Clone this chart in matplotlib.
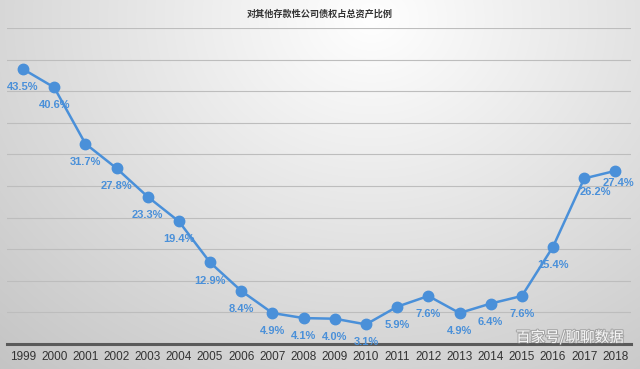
import numpy as np
import matplotlib
matplotlib.use("Agg")
import matplotlib.pyplot as plt
import matplotlib.patheffects as pe
from matplotlib import font_manager

plt.rcParams['font.family'] = ['Noto Sans CJK SC', 'DejaVu Sans']

years = ['1999', '2000', '2001', '2002', '2003', '2004', '2005', '2006', '2007', '2008',
         '2009', '2010', '2011', '2012', '2013', '2014', '2015', '2016', '2017', '2018']
values = [43.5, 40.6, 31.7, 27.8, 23.3, 19.4, 12.9, 8.4, 4.9, 4.1,
          4.0, 3.1, 5.9, 7.6, 4.9, 6.4, 7.6, 15.4, 26.2, 27.4]
title = '对其他存款性公司债权占总资产比例'
watermark = '百家号/聊聊数据'

names = {f.name for f in font_manager.fontManager.ttflist}
narrow = 'Liberation Sans Narrow' if 'Liberation Sans Narrow' in names else 'Liberation Sans'
print(narrow)

W, H = 640, 369
fig = plt.figure(figsize=(W / 100, H / 100), dpi=100)

# gradient background
bg = fig.add_axes([0, 0, 1, 1])
yy, xx = np.mgrid[0:H, 0:W]
cx, cy = W * 0.58, H * 0.05
d = np.sqrt(((xx - cx) / (W * 0.75)) ** 2 + ((yy - cy) / (H * 1.1)) ** 2)
val = 1.0 - 0.2 * np.clip(d, 0, 1.3)
img = np.dstack([val, val, val])
bg.imshow(img, aspect='auto', extent=[0, W, H, 0])
bg.set_axis_off()

left, right = 7.4, 631.0
top, bottom = 28.0, 344.0
ax = fig.add_axes([left / W, 1 - bottom / H, (right - left) / W, (bottom - top) / H])
ax.patch.set_alpha(0)
x = np.arange(len(years))
ax.set_xlim(-0.5, len(years) - 0.5)
ax.set_ylim(0, 50)
for s in ['top', 'right', 'left']:
    ax.spines[s].set_visible(False)
ax.spines['bottom'].set_color('#5a5a5a')
ax.spines['bottom'].set_linewidth(2.2)
ax.set_yticks(np.arange(5, 51, 5))
ax.yaxis.grid(True, color='#bdbdbd', linewidth=0.8)
ax.set_axisbelow(True)
ax.tick_params(axis='y', left=False, labelleft=False)
ax.set_xticks(x)
ax.set_xticklabels(years, fontsize=8.5, color='#333333', family=[narrow, 'DejaVu Sans'])
ax.tick_params(axis='x', length=0, pad=5)

blue = '#4a90d9'
ax.plot(x, values, color=blue, linewidth=1.8, marker='o', markersize=7.5, clip_on=False, zorder=3)

for i, v in enumerate(values):
    dx, dy = 0, -13
    if i == 18:
        dx, dy = 8, -10
    elif i == 19:
        dx, dy = 2, -9
    ax.annotate(f'{v:.1f}%', (i, v), xytext=(dx, dy), textcoords='offset points',
                ha='center', va='center', fontsize=8, fontweight='bold', color=blue,
                family=[narrow, 'DejaVu Sans'], zorder=4)

fig.text(0.5, 1 - 14 / H, title, ha='center', va='center', fontsize=6.6, fontweight='bold', color='#333333')

fig.text(570 / W, 1 - 337 / H, watermark, ha='center', va='center', fontsize=10.5, color='white',
         alpha=0.9, path_effects=[pe.withStroke(linewidth=1.5, foreground='#777777', alpha=0.5)])

fig.savefig('out.png', dpi=100)
